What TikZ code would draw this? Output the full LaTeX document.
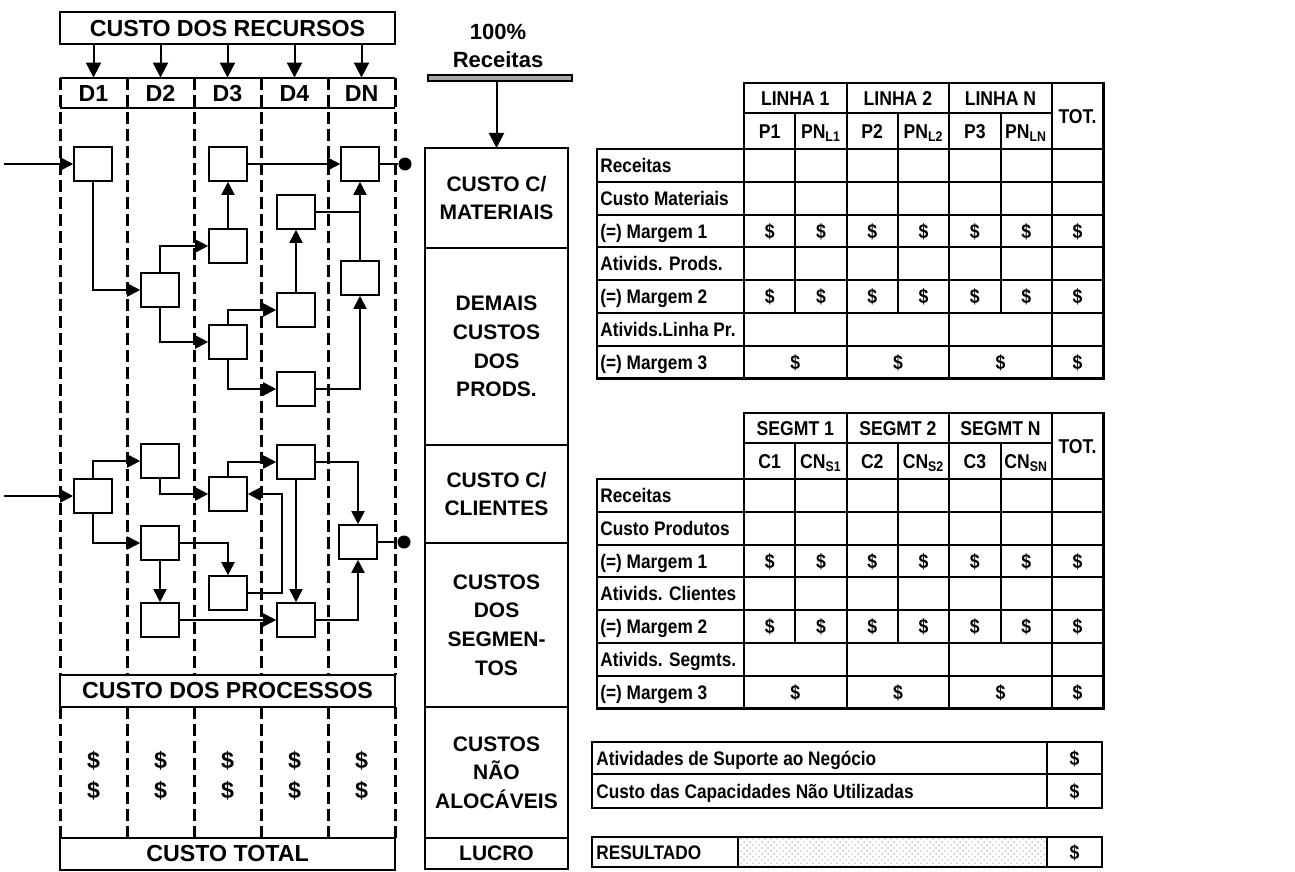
\documentclass[tikz,border=0pt]{standalone}
\usepackage{fontspec}
\setmainfont{Liberation Sans}
\newfontfamily\tabfont[FakeStretch=0.88]{Liberation Sans}
\usepackage{tikz}
\usetikzlibrary{arrows.meta, positioning, patterns}

\begin{document}
\begin{tikzpicture}[x=0.5pt, y=-0.5pt, font=\bfseries]
    \tikzstyle{band} = [rectangle, draw, line width=1pt, fill=white, minimum width=167.5pt, minimum height=16pt, inner sep=0pt, font=\fontsize{11.6}{14}\selectfont\bfseries]
    \tikzstyle{hd} = [inner sep=0pt, text height=8.3pt, text depth=0pt, font=\fontsize{11.6}{14}\selectfont\bfseries]
    \tikzstyle{act} = [rectangle, draw, line width=0.8pt, minimum width=19pt, minimum height=17pt, inner sep=0pt]
    \tikzstyle{sink} = [circle, fill, inner sep=0pt, minimum size=6.5pt]
    \tikzstyle{flow} = [draw, line width=1pt, -{Triangle[length=6.5pt, width=6.5pt]}]
    \tikzstyle{drop} = [draw, line width=1pt, -{Triangle[length=7.5pt, width=7.5pt]}]
    \tikzstyle{link} = [draw, line width=1pt]
    \tikzstyle{dept} = [draw, line width=1.5pt, dash pattern=on 6pt off 2.5pt]
    \tikzstyle{stage} = [rectangle, draw, line width=1pt, minimum width=71.5pt, inner sep=2pt, outer sep=0pt, align=center, font=\fontsize{10.5}{14.3}\selectfont\bfseries]
    \tikzstyle{frame} = [draw, line width=1.4pt]
    \tikzstyle{rule} = [draw, line width=1pt]
    \tikzstyle{cell} = [inner sep=0pt, text height=7.2pt, text depth=0pt, font=\tabfont\fontsize{10}{11}\selectfont\bfseries]
    \tikzstyle{lbl} = [anchor=west, inner sep=0pt, text height=7pt, text depth=0pt, font=\tabfont\fontsize{9.8}{11}\selectfont\bfseries]

    \useasboundingbox (0,0) rectangle (1295,872);

    % departamentos
    \node [band] (rec) at (227.5,28.5) {CUSTO DOS RECURSOS};
    \foreach \dn [count=\i] in {D1,D2,D3,D4,DN} {
        \node [hd, minimum width=33.5pt, minimum height=15pt] (d\i) at (26.5+67*\i,93) {\dn};
        \path [drop] (rec.south -| d\i) -- (d\i.north);
        \node [hd] (ca\i) at (26.5+67*\i,760) {\$};
        \node [hd] (cb\i) at (26.5+67*\i,790) {\$};
    }
    \draw [rule] (d1.north west) -- (d5.north east) (d1.south west) -- (d5.south east);
    \foreach \x in {60,127,194,261,328,395} {
        \draw [dept] (\x,78) -- (\x,675);
        \draw [dept] (\x,707) -- (\x,838);
    }
    \node [band] (proc) at (227.5,691) {CUSTO DOS PROCESSOS};
    \node [band] (total) at (227.5,854) {CUSTO TOTAL};

    % processos - produtos
    \node [act] (a1) at (93,164) {};
    \node [act] (a2) at (228,164) {};
    \node [act] (a3) at (360,164) {};
    \node [act] (a4) at (296,212) {};
    \node [act] (a5) at (228,246) {};
    \node [act] (a6) at (160,290) {};
    \node [act] (a7) at (360,278) {};
    \node [act] (a8) at (296,310) {};
    \node [act] (a9) at (228,342) {};
    \node [act] (a10) at (296,389) {};
    \node [sink] (o1) at (405,164) {};
    \coordinate (i1) at (4,164);

    \path [flow] (i1) -- (a1);
    \path [flow] (a1) |- (a6);
    \path [flow] (a6) |- (a5);
    \path [flow] (a5) -- (a2);
    \path [flow] (a2) -- (a3);
    \path [flow] (a6) |- (a9);
    \path [flow] (a9) |- (a8);
    \path [flow] (a8) -- (a4);
    \path [flow] (a9) |- (a10);
    \path [flow] (a10) -| (a7);
    \path [flow] (a7) -- (a3);
    \path [link] (a4) -- (a4 -| a3);
    \path [link] (a3) -- (o1);

    % processos - clientes
    \node [act] (c1) at (93,496) {};
    \node [act] (c2) at (160,461) {};
    \node [act] (c3) at (160,543) {};
    \node [act] (c4) at (160,620) {};
    \node [act] (c5) at (228,494) {};
    \node [act] (c6) at (228,593) {};
    \node [act] (c7) at (296,462) {};
    \node [act] (c8) at (296,620) {};
    \node [act] (c9) at (358,542) {};
    \node [sink] (o2) at (404,542) {};
    \coordinate (i2) at (4,496);
    \coordinate (back) at (282,494);

    \path [flow] (i2) -- (c1);
    \path [flow] (c1) |- (c2);
    \path [flow] (c1) |- (c3);
    \path [flow] (c2) |- (c5);
    \path [flow] (c3) -| (c6);
    \path [flow] (c3) -- (c4);
    \path [flow] (c4) -- (c8);
    \path [flow] (c5) |- (c7);
    \path [flow] (c6) -| (back) -- (c5);
    \path [flow] (c7) -- (c8);
    \path [flow] (c7) -| (c9);
    \path [flow] (c8) -| (c9);
    \path [link] (c9) -- (o2);

    % receitas
    \node [align=center, font=\fontsize{11}{14}\selectfont\bfseries] (rev) at (498,46) {100\%\\Receitas};
    \node [draw, fill=gray!70, line width=0.8pt, minimum width=72pt, minimum height=3pt, inner sep=0pt] (bar) at (500,78) {};
    \node [stage, minimum height=50pt] (mat) at (496.5,198) {CUSTO C/\\MATERIAIS};
    \node [stage, minimum height=98.5pt, below=0pt of mat] (dem) {DEMAIS\\CUSTOS\\DOS\\PRODS.};
    \node [stage, minimum height=49pt, below=0pt of dem] (cli) {CUSTO C/\\CLIENTES};
    \node [stage, minimum height=82pt, below=0pt of cli] (seg) {CUSTOS\\DOS\\SEGMEN-\\TOS};
    \node [stage, minimum height=65.5pt, below=0pt of seg] (nal) {CUSTOS\\NÃO\\ALOCÁVEIS};
    \node [stage, minimum height=15.5pt, below=0pt of nal] (luc) {LUCRO};
    \path [drop] (bar.south -| mat.north) -- (mat.north);

    % demonstrativos
    \foreach \ty/\rowb/\rowd/\rowf/\grp/\pre/\idx in {83/Custo Materiais/Ativids. Prods./Ativids.Linha Pr./LINHA/P/L, 413/Custo Produtos/Ativids. Clientes/Ativids. Segmts./SEGMT/C/S} {
        \begin{scope}[shift={(0,\ty)}]
            \foreach \row in {0,...,6}
                \draw [rule] (597,66+32.8*\row) -- (1103.1,66+32.8*\row);
            \foreach \x in {846.6,949.2,1051.8}
                \draw [rule] (\x,0) -- (\x,295.6);
            \foreach \x in {795.3,897.9,1000.5}
                \draw [rule] (\x,30) -- (\x,230);
            \draw [rule] (744,30) -- (1051.8,30);
            \draw [frame] (597,66) -- (744,66) -- (744,0) -- (1103.1,0) -- (1103.1,295.6) -- (597,295.6) -- cycle;
            \draw [frame] (744,66) -- (744,295.6);
            \foreach \j/\lab in {1/1,2/2,3/N} {
                \node [cell] (g\ty\j) at (795.3+102.6*\j-102.6,15) {\grp~\lab};
                \node [cell] (p\ty\j) at (769.65+102.6*\j-102.6,48) {\pre\j};
                \node [cell] (q\ty\j) at (820.95+102.6*\j-102.6,48) {\pre N\textsubscript{\idx\lab}};
                \node [cell] (s\ty\j) at (795.3+102.6*\j-102.6,279.2) {\$};
            }
            \node [cell] (tot\ty) at (1077.45,33) {TOT.};
            \node [cell] (st\ty) at (1077.45,279.2) {\$};
            \foreach \row/\txt in {1/Receitas, 2/\rowb, 3/{(=) Margem 1}, 4/\rowd, 5/{(=) Margem 2}, 6/\rowf, 7/{(=) Margem 3}}
                \node [lbl] (r\ty\row) at (600,49.6+32.8*\row) {\txt};
            \foreach \row in {3,5}
                \foreach \col in {0,...,6}
                    \node [cell] (m\ty\row\col) at (769.65+51.3*\col,49.6+32.8*\row) {\$};
        \end{scope}
    }

    % resultado
    \draw [frame] (592,742) rectangle (1102,808);
    \draw [rule] (592,774) -- (1102,774) (1047,742) -- (1047,808);
    \node [lbl] (sup) at (596,758) {Atividades de Suporte ao Negócio};
    \node [lbl] (cap) at (596,791) {Custo das Capacidades Não Utilizadas};
    \node [cell] (supv) at (1074.5,758) {\$};
    \node [cell] (capv) at (1074.5,791) {\$};
    \draw [frame, pattern=crosshatch dots, pattern color=gray!45] (738,837) rectangle (1047,867);
    \draw [frame] (592,837) rectangle (1102,867);
    \node [lbl] (res) at (596,852) {RESULTADO};
    \node [cell] (resv) at (1074.5,852) {\$};
\end{tikzpicture}
\end{document}
